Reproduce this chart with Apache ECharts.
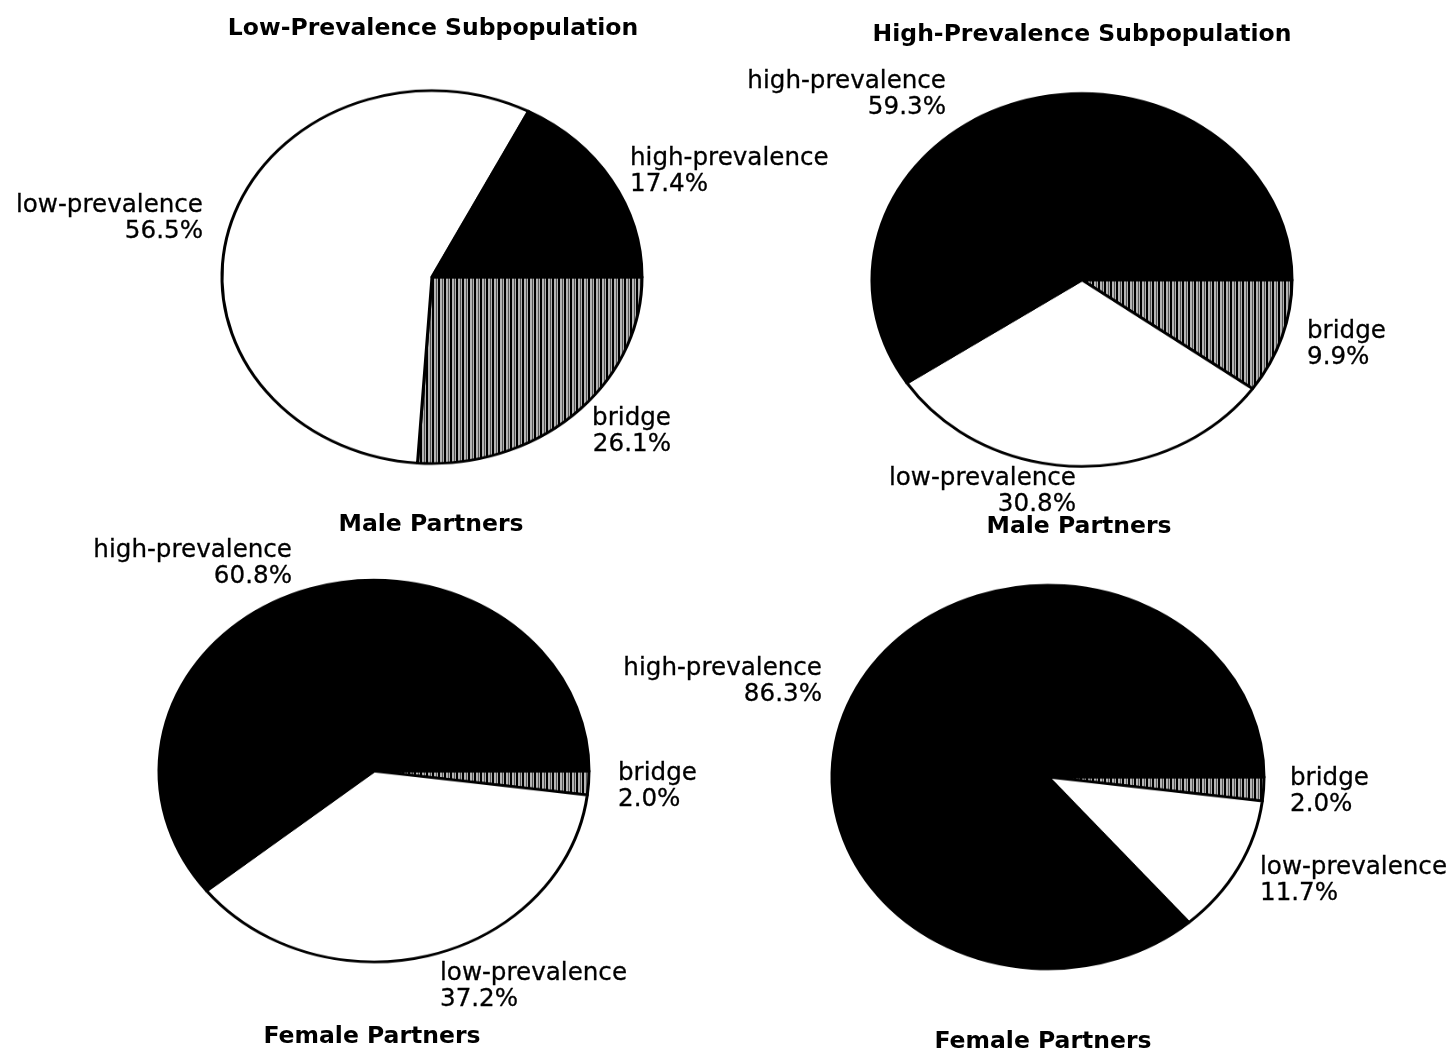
<!DOCTYPE html>
<html>
<head>
<meta charset="utf-8">
<script src="https://cdn.jsdelivr.net/npm/echarts@6/dist/echarts.min.js"></script>
<style>
  html, body { margin: 0; padding: 0; background: #fff; overflow: hidden; width: 1455px; height: 1051px; }
  #pies { position: absolute; left: 0; top: 0; width: 1455px; height: 1184px; transform: scaleY(0.888); transform-origin: 0 0; }
  #texts { position: absolute; left: 0; top: 0; width: 1455px; height: 1051px; }
</style>
</head>
<body>
<div id="pies"></div>
<div id="texts"></div>
<script>
// ---- data ----
const categories = ['bridge', 'low-prevalence', 'high-prevalence'];
const lowPrevMale = [26.1, 56.5, 17.4];
const highPrevMale = [9.9, 30.8, 59.3];
const lowPrevFemale = [2.0, 37.2, 60.8];
const highPrevFemale = [2.0, 11.7, 86.3];
const panelTitles = ['Low-Prevalence Subpopulation', 'High-Prevalence Subpopulation'];
const partnerTitles = ['Male Partners', 'Male Partners', 'Female Partners', 'Female Partners'];

// ---- hatch pattern ----
function makeHatch() {
  const c = document.createElement('canvas');
  c.width = 6; c.height = 6;
  const g = c.getContext('2d');
  g.fillStyle = '#b4b4b4';
  g.fillRect(0, 0, 6, 6);
  g.fillStyle = '#000';
  g.fillRect(0, 0, 2, 6);
  g.fillStyle = '#555';
  g.fillRect(4, 0, 1, 6);
  return c;
}
const hatch = { image: makeHatch(), repeat: 'repeat' };
const sliceColors = [hatch, '#ffffff', '#000000'];

const K = 0.888; // vertical squash applied to pie canvas
const pieDefs = [
  { values: lowPrevMale, cx: 432, cy: 277, r: 210 },
  { values: highPrevMale, cx: 1082, cy: 280, r: 210 },
  { values: lowPrevFemale, cx: 374, cy: 771, r: 215 },
  { values: highPrevFemale, cx: 1048, cy: 777, r: 216 }
];

const pieChart = echarts.init(document.getElementById('pies'), null, { renderer: 'canvas' });
pieChart.setOption({
  animation: false,
  backgroundColor: 'transparent',
  series: pieDefs.map(p => ({
    type: 'pie',
    center: [p.cx, p.cy / K],
    radius: [0, p.r],
    startAngle: 0,
    clockwise: true,
    silent: true,
    label: { show: false },
    labelLine: { show: false },
    emphasis: { disabled: true },
    itemStyle: { borderColor: '#000', borderWidth: 3 },
    data: categories.map((c, i) => ({
      name: c,
      value: p.values[i],
      itemStyle: { color: sliceColors[i] }
    }))
  }))
});

// ---- texts ----
const labelFont = '24.6px "DejaVu Sans"';
const titleFont = 'bold 23.5px "DejaVu Sans"';
function lbl(vals, idx, x, y, align) {
  return {
    type: 'text', x: x, y: y, silent: true,
    style: {
      text: categories[idx] + '\n' + vals[idx].toFixed(1) + '%',
      font: labelFont, fill: '#000', align: align, verticalAlign: 'top', lineHeight: 26,
      stroke: '#000', lineWidth: 0.3
    }
  };
}
function ttl(text, x, y) {
  return {
    type: 'text', x: x, y: y, silent: true,
    style: { text: text, font: titleFont, fill: '#000', align: 'center', verticalAlign: 'top', lineHeight: 23 }
  };
}
const textChart = echarts.init(document.getElementById('texts'), null, { renderer: 'canvas' });
textChart.setOption({
  animation: false,
  backgroundColor: 'transparent',
  graphic: [
    ttl(panelTitles[0], 433, 17),
    ttl(panelTitles[1], 1082, 23),
    ttl(partnerTitles[0], 431, 513),
    ttl(partnerTitles[1], 1079, 515),
    ttl(partnerTitles[2], 372, 1025),
    ttl(partnerTitles[3], 1043, 1030),
    // low-prevalence subpopulation, male partners
    lbl(lowPrevMale, 1, 203, 193, 'right'),
    lbl(lowPrevMale, 2, 630, 146, 'left'),
    lbl(lowPrevMale, 0, 671, 406, 'right'),
    // high-prevalence subpopulation, male partners
    lbl(highPrevMale, 2, 946, 69, 'right'),
    lbl(highPrevMale, 0, 1307, 319, 'left'),
    lbl(highPrevMale, 1, 1076, 466, 'right'),
    // low-prevalence subpopulation, female partners
    lbl(lowPrevFemale, 2, 292, 538, 'right'),
    lbl(lowPrevFemale, 0, 618, 761, 'left'),
    lbl(lowPrevFemale, 1, 440, 961, 'left'),
    // high-prevalence subpopulation, female partners
    lbl(highPrevFemale, 2, 822, 656, 'right'),
    lbl(highPrevFemale, 0, 1290, 766, 'left'),
    lbl(highPrevFemale, 1, 1260, 855, 'left')
  ]
});
</script>
</body>
</html>
